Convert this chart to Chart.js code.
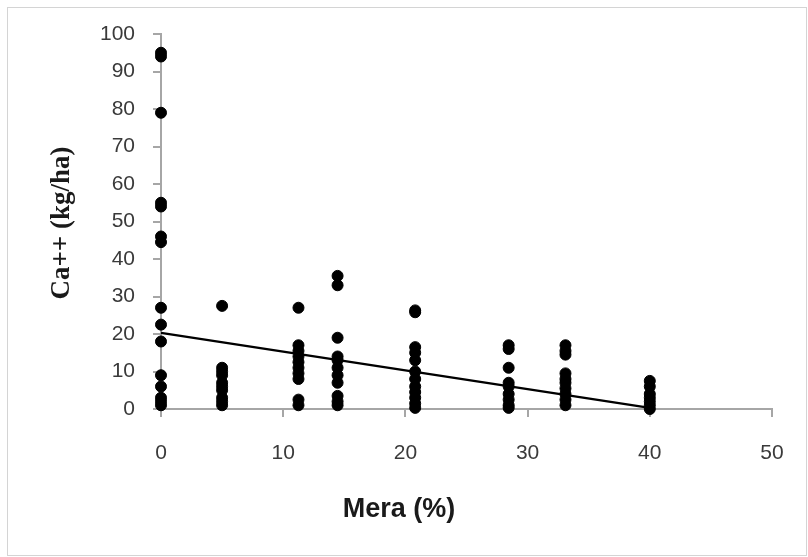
<!DOCTYPE html>
<html>
<head>
<meta charset="utf-8">
<script src="https://cdn.jsdelivr.net/npm/chart.js@4/dist/chart.umd.min.js"></script>
<style>
  html, body { margin: 0; padding: 0; background: #fff; }
  #wrap { position: relative; width: 808px; height: 557px; }
  canvas { display: block; }
</style>
</head>
<body>
<div id="wrap"><canvas id="c" width="808" height="557"></canvas></div>
<script>
// Mera share (%) of each sampled plot group
const meraLevels = [0, 5, 11.25, 14.45, 20.8, 28.45, 33.1, 40];

// Ca++ (kg/ha) measured in each group, same order as meraLevels
const ca_m0  = [95, 94, 79, 55, 54, 46, 44.5, 27, 22.5, 18, 9, 6, 3, 2, 1];
const ca_m5  = [27.5, 11, 10, 9, 7, 6, 5, 3, 2, 1];
const ca_m11 = [27, 17, 15.5, 14, 12.5, 11, 9.5, 8, 2.5, 1];
const ca_m14 = [35.5, 33, 19, 14, 13, 11, 9, 7, 3.5, 2, 1];
const ca_m20 = [26.3, 25.8, 16.5, 15, 13, 10, 8, 6, 4.5, 3, 1.5, 0.3];
const ca_m28 = [17, 16, 11, 7, 6, 4, 2.5, 1, 0.3];
const ca_m33 = [17, 15.5, 14.5, 9.5, 8, 7, 5.5, 4, 2.5, 1];
const ca_m40 = [7.5, 6, 4, 3, 2, 1, 0];
const caGroups = [ca_m0, ca_m5, ca_m11, ca_m14, ca_m20, ca_m28, ca_m33, ca_m40];

// Linear trend line end points
const trendX = [0, 40];
const trendY = [20.3, 0.3];

// Axis ticks
const xTicks = [0, 10, 20, 30, 40, 50];
const yTicks = [0, 10, 20, 30, 40, 50, 60, 70, 80, 90, 100];

const points = [];
meraLevels.forEach((m, i) => caGroups[i].forEach(v => points.push({ x: m, y: v })));
const trend = trendX.map((x, i) => ({ x: x, y: trendY[i] }));

const axisGray = '#a6a6a6';
const tickFont = { family: '"Liberation Sans", Arial, sans-serif', size: 21 };
const tickColor = '#3a3a3a';

// Outer frame and the two axis titles
const decor = {
  id: 'decor',
  beforeDraw(chart) {
    const ctx = chart.ctx;
    ctx.save();
    ctx.fillStyle = '#ffffff';
    ctx.fillRect(0, 0, chart.width, chart.height);
    ctx.strokeStyle = '#d4d4d4';
    ctx.lineWidth = 1;
    ctx.strokeRect(7.5, 7.5, 799, 548);
    ctx.restore();
  },
  afterDraw(chart) {
    const ctx = chart.ctx;
    ctx.save();
    ctx.fillStyle = '#1a1a1a';
    ctx.textAlign = 'center';
    ctx.textBaseline = 'middle';
    ctx.font = 'bold 27px "Liberation Sans", Arial, sans-serif';
    ctx.fillText('Mera (%)', 399, 510);
    ctx.translate(62, 223);
    ctx.rotate(-Math.PI / 2);
    ctx.font = 'bold 27px "Liberation Serif", "Times New Roman", serif';
    ctx.fillText('Ca++ (kg/ha)', 0, 0);
    ctx.restore();
  }
};

new Chart(document.getElementById('c'), {
  type: 'scatter',
  data: {
    datasets: [
      {
        label: 'Ca++',
        data: points,
        backgroundColor: '#000',
        borderColor: '#000',
        pointRadius: 5.5,
        pointHoverRadius: 5.5,
        clip: false,
        order: 2
      },
      {
        label: 'Trend',
        type: 'line',
        data: trend,
        borderColor: '#000',
        borderWidth: 2.5,
        pointRadius: 0,
        fill: false,
        clip: false,
        order: 1
      }
    ]
  },
  options: {
    responsive: false,
    animation: false,
    events: [],
    layout: { padding: { top: 34, right: 36, left: 0, bottom: 0 } },
    plugins: {
      legend: { display: false },
      tooltip: { enabled: false }
    },
    scales: {
      x: {
        type: 'linear',
        min: 0,
        max: 50,
        afterBuildTicks(s) { s.ticks = xTicks.map(v => ({ value: v })); },
        afterFit(s) { s.height = 557 - 409; },
        border: { display: true, color: axisGray, width: 2 },
        grid: { display: true, drawOnChartArea: false, drawTicks: true, tickLength: 8, color: axisGray, lineWidth: 2 },
        ticks: { font: tickFont, color: tickColor, padding: 24, maxRotation: 0 },
        title: { display: false }
      },
      y: {
        type: 'linear',
        min: 0,
        max: 100,
        afterBuildTicks(s) { s.ticks = yTicks.map(v => ({ value: v })); },
        afterFit(s) { s.width = 161; },
        border: { display: true, color: axisGray, width: 2 },
        grid: { display: true, drawOnChartArea: false, drawTicks: true, tickLength: 8, color: axisGray, lineWidth: 2 },
        ticks: { font: tickFont, color: tickColor, padding: 18 },
        title: { display: false }
      }
    }
  },
  plugins: [decor]
});
</script>
</body>
</html>
